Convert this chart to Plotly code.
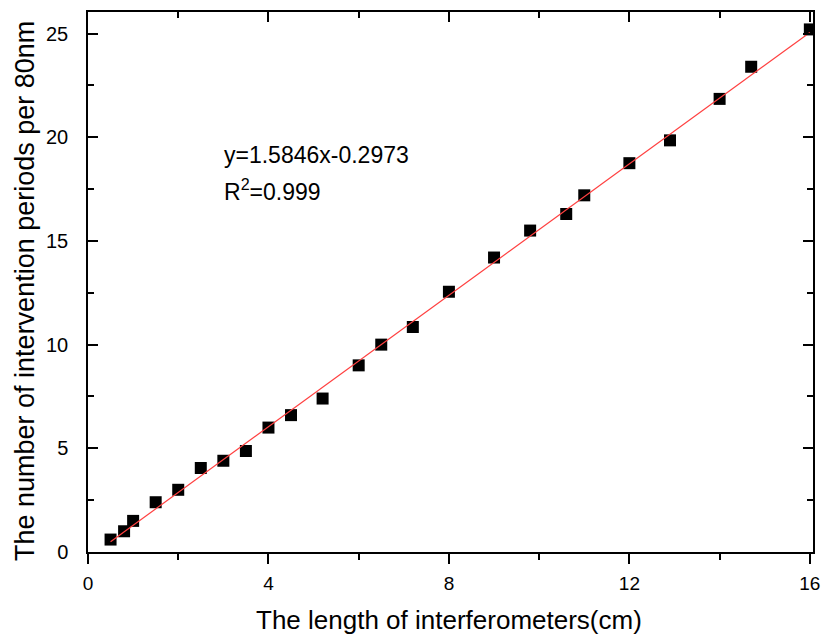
import plotly.graph_objects as go

length_cm = [0.5, 0.8, 1.0, 1.5, 2.0, 2.5, 3.0, 3.5, 4.0, 4.5, 5.2, 6.0, 6.5, 7.2,
             8.0, 9.0, 9.8, 10.6, 11.0, 12.0, 12.9, 14.0, 14.7, 16.0]
periods = [0.6, 1.0, 1.5, 2.4, 3.0, 4.05, 4.4, 4.87, 6.0, 6.6, 7.4, 9.0, 10.0, 10.85,
           12.55, 14.2, 15.5, 16.3, 17.2, 18.75, 19.85, 21.85, 23.4, 25.2]

fit_x = [0.5, 16.0]
fit_y = [0.495, 25.056]

x_ticks = [0, 4, 8, 12, 16]
y_ticks = [0, 5, 10, 15, 20, 25]

font_main = "Liberation Sans, Arial, sans-serif"

W, H = 823, 634
ML, MR, MT, MB = 88, 10, 12, 82

fig = go.Figure()
fig.add_trace(go.Scatter(x=length_cm, y=periods, mode="markers",
                         marker=dict(symbol="square", size=12, color="black"),
                         showlegend=False))
fig.add_trace(go.Scatter(x=fit_x, y=fit_y, mode="lines",
                         line=dict(color="#ff4040", width=1.2), showlegend=False))
fig.add_trace(go.Scatter(x=fit_x, y=fit_y, mode="lines", xaxis="x2",
                         line=dict(width=0), opacity=0, hoverinfo="skip", showlegend=False))

axis_common = dict(showgrid=False, zeroline=False, showline=True, linecolor="black",
                   linewidth=1.5, automargin=False)

fig.update_layout(
    width=W, height=H,
    margin=dict(l=ML, r=MR, t=MT, b=MB),
    plot_bgcolor="white", paper_bgcolor="white",
    xaxis=dict(range=[0, 16.07], tickvals=x_ticks, ticks="outside", ticklen=10,
               tickwidth=1.5, tickcolor="black", ticklabelstandoff=3,
               minor=dict(dtick=2, tick0=0, ticks="outside", ticklen=6, tickwidth=1.5,
                          tickcolor="black", showgrid=False),
               tickfont=dict(family=font_main, size=19, color="black"),
               **axis_common),
    xaxis2=dict(range=[0, 16.07], overlaying="x", side="top", tickvals=x_ticks,
                ticks="inside", ticklen=10, tickwidth=1.5, tickcolor="black",
                showticklabels=False,
                minor=dict(dtick=2, tick0=0, ticks="inside", ticklen=6, tickwidth=1.5,
                           tickcolor="black", showgrid=False),
                **axis_common),
    yaxis=dict(range=[0, 26.04], tickvals=y_ticks, ticks="inside", ticklen=10,
               tickwidth=1.5, tickcolor="black", mirror="ticks", ticklabelstandoff=14,
               minor=dict(dtick=2.5, tick0=0, ticks="inside", ticklen=6, tickwidth=1.5,
                          tickcolor="black", showgrid=False),
               tickfont=dict(family=font_main, size=20, color="black"),
               **axis_common),
)

plot_w = W - ML - MR
plot_h = H - MT - MB
def px2paper(px, py):
    return (px - ML) / plot_w, (H - MB - py) / plot_h

ax1, ay1 = px2paper(222, 155)
ax2, ay2 = px2paper(222, 190)
fig.add_annotation(x=ax1, y=ay1, xref="paper", yref="paper", text="y=1.5846x-0.2973",
                   showarrow=False, xanchor="left", yanchor="middle",
                   font=dict(family=font_main, size=23, color="black"))
fig.add_annotation(x=ax2, y=ay2, xref="paper", yref="paper", text="R<sup>2</sup>=0.999",
                   showarrow=False, xanchor="left", yanchor="middle",
                   font=dict(family=font_main, size=23, color="black"))

tx, ty = px2paper(449, 620)
fig.add_annotation(x=tx, y=ty, xref="paper", yref="paper",
                   text="The length of interferometers(cm)",
                   showarrow=False, xanchor="center", yanchor="middle",
                   font=dict(family=font_main, size=26, color="black"))
yx, yy = px2paper(25, 291)
fig.add_annotation(x=yx, y=yy, xref="paper", yref="paper", textangle=-90,
                   text="The number of intervention periods per 80nm",
                   showarrow=False, xanchor="center", yanchor="middle",
                   font=dict(family=font_main, size=27, color="black"))

fig.write_html("out.html", config={"displayModeBar": False},
               post_script="document.body.style.margin='0';document.body.style.overflow='hidden';")
